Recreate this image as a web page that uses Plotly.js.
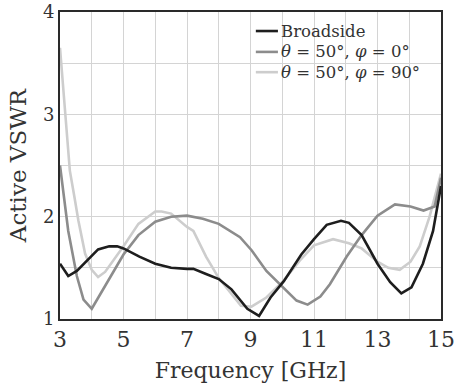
<!DOCTYPE html>
<html>
<head>
<meta charset="utf-8">
<script src="https://cdn.plot.ly/plotly-3.0.1.min.js"></script>
<style>html,body{margin:0;padding:0;background:#fff;}#chart{width:458px;height:387px;}</style>
</head>
<body>
<div id="chart"></div>
<script>
// Broadside
const broadsideX = [3.0, 3.26, 3.53, 3.9, 4.2, 4.55, 4.8, 5.0, 5.5, 6.0, 6.5, 7.0, 7.2, 7.6, 8.0, 8.4, 8.9, 9.27, 9.63, 10.05, 10.6, 11.0, 11.4, 11.85, 12.1, 12.5, 13.0, 13.4, 13.75, 14.07, 14.43, 14.75, 15.0];
const broadsideY = [1.54, 1.42, 1.47, 1.59, 1.68, 1.71, 1.71, 1.69, 1.61, 1.54, 1.50, 1.49, 1.49, 1.44, 1.39, 1.29, 1.10, 1.03, 1.21, 1.37, 1.63, 1.78, 1.92, 1.96, 1.94, 1.82, 1.54, 1.36, 1.25, 1.31, 1.54, 1.86, 2.30];
// theta = 50, phi = 0
const phi0X = [3.0, 3.26, 3.53, 3.74, 4.0, 4.42, 5.0, 5.47, 6.0, 6.5, 7.0, 7.5, 8.0, 8.67, 9.04, 9.5, 10.03, 10.45, 10.8, 11.2, 11.5, 12.03, 12.5, 13.0, 13.55, 14.04, 14.45, 14.8, 15.0];
const phi0Y = [2.50, 1.86, 1.42, 1.19, 1.10, 1.32, 1.63, 1.82, 1.95, 2.00, 2.01, 1.98, 1.93, 1.80, 1.67, 1.47, 1.31, 1.18, 1.14, 1.22, 1.34, 1.61, 1.82, 2.01, 2.12, 2.10, 2.06, 2.10, 2.38];
// theta = 50, phi = 90
const phi90X = [3.0, 3.15, 3.31, 3.45, 3.58, 3.79, 4.0, 4.2, 4.42, 5.0, 5.47, 6.0, 6.2, 6.5, 7.0, 7.2, 7.6, 8.0, 8.4, 8.7, 9.03, 9.5, 10.03, 10.55, 11.0, 11.6, 12.1, 12.5, 13.0, 13.34, 13.7, 14.04, 14.33, 14.64, 15.0];
const phi90Y = [3.65, 3.05, 2.45, 2.20, 1.96, 1.64, 1.48, 1.41, 1.46, 1.71, 1.93, 2.05, 2.05, 2.03, 1.90, 1.86, 1.61, 1.40, 1.24, 1.13, 1.12, 1.21, 1.37, 1.57, 1.72, 1.78, 1.74, 1.69, 1.56, 1.50, 1.48, 1.56, 1.71, 2.00, 2.42];

const seriesNames = ["Broadside", "<i>θ</i> = 50°, <i>φ</i> = 0°", "<i>θ</i> = 50°, <i>φ</i> = 90°"];
const seriesColors = ["#1e1e1e", "#8c8c8c", "#cdcdcd"];
const xTicks = [3, 5, 7, 9, 11, 13, 15];
const yTicks = [1, 2, 3, 4];

const FONT = "DejaVu Serif, serif";
const xs = [broadsideX, phi0X, phi90X];
const ys = [broadsideY, phi0Y, phi90Y];
const order = [2, 1, 0];
const traces = order.map(i => ({
  x: xs[i], y: ys[i], type: "scatter", mode: "lines", name: seriesNames[i],
  line: {color: seriesColors[i], width: 2.6}, showlegend: false
}));

const rowsY = [0.938, 0.87, 0.804];
const shapes = [];
const annotations = [];
seriesNames.forEach((n, i) => {
  shapes.push({type: "line", xref: "paper", yref: "paper", x0: 0.514, x1: 0.572, y0: rowsY[i], y1: rowsY[i],
    line: {color: seriesColors[i], width: 2.6}});
  annotations.push({xref: "paper", yref: "paper", x: 0.574, y: rowsY[i], xanchor: "left", yanchor: "middle",
    text: n, showarrow: false, font: {family: FONT, size: 16.5, color: "#333"}});
});

const layout = {
  width: 458, height: 387,
  margin: {l: 60, r: 17, t: 12, b: 68},
  paper_bgcolor: "#fff", plot_bgcolor: "#fff",
  showlegend: false,
  font: {family: FONT, color: "#333"},
  xaxis: {
    range: [3, 15], tickvals: xTicks, ticktext: xTicks.map(String),
    showgrid: true, gridcolor: "#d4d4d4", gridwidth: 1,
    minor: {dtick: 1, showgrid: true, gridcolor: "#d4d4d4", gridwidth: 1},
    showline: true, linecolor: "#2a2a2a", linewidth: 2, mirror: true,
    ticks: "", zeroline: false,
    tickfont: {family: FONT, size: 22, color: "#333"},
    title: {text: "Frequency [GHz]", font: {family: FONT, size: 22, color: "#333"}, standoff: 11}
  },
  yaxis: {
    range: [1, 4], tickvals: yTicks, ticktext: yTicks.map(String),
    showgrid: true, gridcolor: "#d4d4d4", gridwidth: 1,
    minor: {dtick: 0.5, showgrid: true, gridcolor: "#d4d4d4", gridwidth: 1},
    showline: true, linecolor: "#2a2a2a", linewidth: 2, mirror: true,
    ticks: "", zeroline: false,
    tickfont: {family: FONT, size: 18, color: "#333"},
    title: {text: "Active VSWR", font: {family: FONT, size: 23, color: "#333"}, standoff: 10}
  },
  shapes: shapes,
  annotations: annotations
};

Plotly.newPlot("chart", traces, layout, {displayModeBar: false, staticPlot: true});
</script>
</body>
</html>
